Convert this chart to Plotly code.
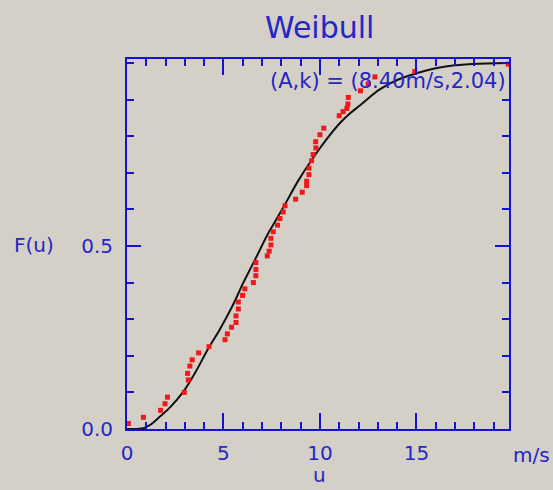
import plotly.graph_objects as go

# Empirical cumulative distribution (red points)
obs_u = [0.07, 0.85, 1.74, 1.97, 2.10, 2.97, 3.18, 3.14, 3.26, 3.38, 3.71, 4.25,
         5.08, 5.20, 5.42, 5.65, 5.65, 5.77, 5.77, 5.99, 6.11, 6.55, 6.68, 6.68,
         6.68, 7.27, 7.37, 7.46, 7.46, 7.58, 7.80, 7.93, 8.10, 8.19, 8.74, 9.08,
         9.31, 9.31, 9.43, 9.43, 9.57, 9.65, 9.79, 9.78, 10.00, 10.20, 11.00,
         11.20, 11.40, 11.45, 11.47, 12.10, 12.50, 12.85, 14.92, 19.76]
obs_F = [0.015, 0.032, 0.051, 0.069, 0.087, 0.100, 0.134, 0.152, 0.172, 0.189,
         0.208, 0.225, 0.244, 0.260, 0.278, 0.291, 0.309, 0.328, 0.347, 0.365,
         0.383, 0.400, 0.419, 0.436, 0.455, 0.473, 0.486, 0.503, 0.521, 0.539,
         0.557, 0.575, 0.593, 0.610, 0.628, 0.647, 0.665, 0.677, 0.695, 0.713,
         0.733, 0.750, 0.768, 0.785, 0.804, 0.822, 0.856, 0.867, 0.876, 0.888,
         0.906, 0.924, 0.943, 0.962, 0.977, 0.997]

# Fitted Weibull curve (black line)
fit_u = [0.0, 0.85, 1.19, 1.71, 2.23, 2.92, 3.61, 4.21, 4.81, 5.51, 6.03, 6.63,
         7.32, 7.58, 8.19, 8.87, 9.57, 10.35, 11.04, 11.55, 12.07, 13.10, 14.06,
         15.20, 16.20, 17.90, 19.70]
fit_F = [0.0, 0.002, 0.011, 0.034, 0.059, 0.102, 0.161, 0.220, 0.272, 0.341,
         0.400, 0.462, 0.535, 0.558, 0.614, 0.678, 0.735, 0.792, 0.836, 0.862,
         0.884, 0.928, 0.955, 0.975, 0.988, 0.997, 1.000]

x_tickvals = [0, 5, 10, 15]
x_ticktext = ["0", "5", "10", "15"]
y_tickvals = [0, 0.5]
y_ticktext = ["0.0", "0.5"]

title_text = "Weibull"
param_text = "(A,k) = (8.40m/s,2.04)"
x_label = "u"
x_unit = "m/s"
y_label = "F(u)"

BG = "#d4d0c8"
AXIS = "#1414cc"
TXT = "#2626c4"
FONT = "DejaVu Sans"

fig = go.Figure()
fig.add_trace(go.Scatter(x=fit_u, y=fit_F, mode="lines", line_shape="spline",
                         line=dict(color="#111111", width=2), showlegend=False))
fig.add_trace(go.Scatter(x=obs_u, y=obs_F, mode="markers",
                         marker=dict(symbol="square", size=5, color="#f01818",
                                     line=dict(width=0)), showlegend=False))

axis_common = dict(showgrid=False, zeroline=False, showline=True, linecolor=AXIS,
                   linewidth=2, mirror="allticks", ticks="inside", tickcolor=AXIS,
                   tickwidth=2, tickfont=dict(family=FONT, size=20, color=TXT))

fig.update_xaxes(range=[0, 19.8], tickvals=x_tickvals, ticktext=x_ticktext,
                 ticklen=16, ticklabelstandoff=5,
                 minor=dict(dtick=1, tick0=0, ticks="inside", ticklen=7,
                            tickcolor=AXIS, tickwidth=2),
                 **axis_common)
fig.update_yaxes(range=[0, 1.011], tickvals=y_tickvals, ticktext=y_ticktext,
                 ticklen=14, ticklabelstandoff=8,
                 minor=dict(dtick=0.1, tick0=0, ticks="inside", ticklen=7,
                            tickcolor=AXIS, tickwidth=2),
                 **axis_common)

ann = []
ann.append(dict(text=title_text, x=0.505, y=1.086, xref="paper", yref="paper",
                xanchor="center", yanchor="middle", showarrow=False,
                font=dict(family=FONT, size=30, color=TXT)))
ann.append(dict(text=param_text, x=0.997, y=0.941, xref="paper", yref="paper",
                xanchor="right", yanchor="middle", showarrow=False,
                font=dict(family=FONT, size=21, color=TXT)))
ann.append(dict(text=y_label, x=-0.243, y=0.497, xref="paper", yref="paper",
                xanchor="center", yanchor="middle", showarrow=False,
                font=dict(family=FONT, size=20, color=TXT)))
ann.append(dict(text=x_unit, x=1.058, y=-0.070, xref="paper", yref="paper",
                xanchor="center", yanchor="middle", showarrow=False,
                font=dict(family=FONT, size=20, color=TXT)))
ann.append(dict(text=x_label, x=0.505, y=-0.124, xref="paper", yref="paper",
                xanchor="center", yanchor="middle", showarrow=False,
                font=dict(family=FONT, size=20, color=TXT)))

fig.update_layout(width=553, height=490, paper_bgcolor=BG, plot_bgcolor=BG,
                  margin=dict(l=127, r=44, t=59, b=61), annotations=ann,
                  showlegend=False)

fig.write_html("out.html")
